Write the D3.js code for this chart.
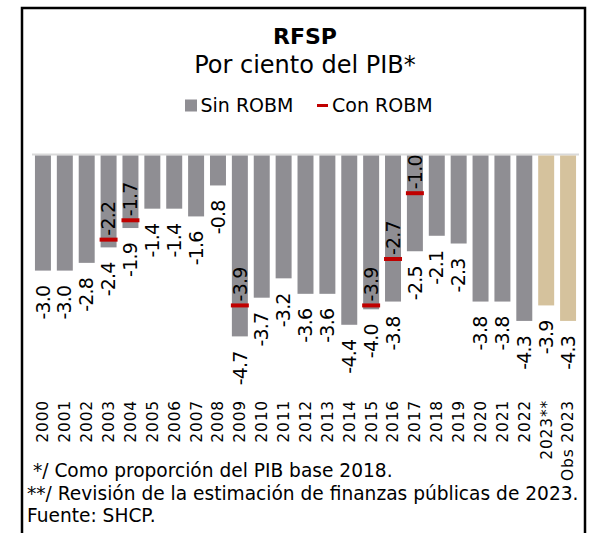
<!DOCTYPE html>
<html>
<head>
<meta charset="utf-8">
<script src="https://cdn.jsdelivr.net/npm/d3@7"></script>
<style>
  html, body { margin: 0; padding: 0; background: #fff; }
  svg { display: block; font-family: "DejaVu Sans", sans-serif; }
</style>
</head>
<body>
<svg id="chart" width="594" height="533"></svg>
<script>
// Years on the category axis
const years = ["2000","2001","2002","2003","2004","2005","2006","2007","2008","2009","2010",
  "2011","2012","2013","2014","2015","2016","2017","2018","2019","2020","2021","2022",
  "2023**","Obs 2023"];

// RFSP without ROBM, % of GDP
const sinROBM = [-3.0,-3.0,-2.8,-2.4,-1.9,-1.4,-1.4,-1.6,-0.8,-4.7,-3.7,
  -3.2,-3.6,-3.6,-4.4,-4.0,-3.8,-2.5,-2.1,-2.3,-3.8,-3.8,-4.3,
  -3.9,-4.3];

// RFSP with ROBM, only for the years where it differs
const conYears = ["2003","2004","2009","2015","2016","2017"];
const conROBM  = [-2.2,-1.7,-3.9,-3.9,-2.7,-1.0];

// Estimates for 2023 drawn in a different colour
const estimateYears = ["2023**","Obs 2023"];

const notes = [
  " */ Como proporción del PIB base 2018.",
  "**/ Revisión de la estimación de finanzas públicas de 2023.",
  "Fuente: SHCP."
];

const GRAY = "#8f8e93", TAN = "#d5c29d", RED = "#c00000";

const svg = d3.select("#chart");

// frame
svg.append("rect")
  .attr("x", 22).attr("y", 8).attr("width", 563).attr("height", 540)
  .attr("fill", "none").attr("stroke", "#000").attr("stroke-width", 2.5);

// titles
svg.append("text").attr("x", 305).attr("y", 43.5).attr("text-anchor", "middle")
  .style("font-weight", "bold").style("font-size", "22px").text("RFSP");
svg.append("text").attr("x", 305).attr("y", 72.5).attr("text-anchor", "middle")
  .style("font-size", "24px").text("Por ciento del PIB*");

// legend
const leg = svg.append("g").style("font-size", "19px");
leg.append("rect").attr("x", 185).attr("y", 99.5).attr("width", 12).attr("height", 12).attr("fill", GRAY);
leg.append("text").attr("x", 200.5).attr("y", 111.5).text("Sin ROBM");
leg.append("rect").attr("x", 317).attr("y", 104).attr("width", 11).attr("height", 3).attr("fill", RED);
leg.append("text").attr("x", 332).attr("y", 111.5).text("Con ROBM");

// scales
const x = d3.scaleBand().domain(years).range([32, 579]).paddingInner(0.27).paddingOuter(0.135);
const y = d3.scaleLinear().domain([0, -5]).range([154.5, 154.5 + 5 * 38.7]);

const bars = years.map((yr, i) => ({ yr, v: sinROBM[i] }));
const marks = conYears.map((yr, i) => ({ yr, v: conROBM[i] }));

// zero line
svg.append("line")
  .attr("x1", x.range()[0]).attr("x2", x.range()[1])
  .attr("y1", y(0)).attr("y2", y(0))
  .attr("stroke", "#d9d9d9").attr("stroke-width", 2);

// bars
svg.append("g").selectAll("rect").data(bars).join("rect")
  .attr("x", d => x(d.yr))
  .attr("y", y(0) + 1)
  .attr("width", x.bandwidth())
  .attr("height", d => y(d.v) - y(0) - 1)
  .attr("fill", d => estimateYears.includes(d.yr) ? TAN : GRAY);

// ROBM markers
svg.append("g").selectAll("rect").data(marks).join("rect")
  .attr("x", d => x(d.yr) - 1)
  .attr("y", d => y(d.v) - 2)
  .attr("width", x.bandwidth() + 2)
  .attr("height", 4)
  .attr("fill", RED);

// one decimal, plain hyphen as the minus sign
const fmt = v => v.toFixed(1);

// labels under the bars
svg.append("g").selectAll("text").data(bars).join("text")
  .attr("transform", d => `translate(${x(d.yr) + x.bandwidth() / 2},${y(d.v) + 15}) rotate(-90)`)
  .attr("dy", "0.35em")
  .attr("text-anchor", "end")
  .style("font-size", "19px")
  .style("letter-spacing", "-0.8px")
  .text(d => fmt(d.v));

// labels above the markers
svg.append("g").selectAll("text").data(marks).join("text")
  .attr("transform", d => `translate(${x(d.yr) + x.bandwidth() / 2},${y(d.v) - 4}) rotate(-90)`)
  .attr("dy", "0.35em")
  .attr("text-anchor", "start")
  .style("font-size", "19px")
  .style("letter-spacing", "-0.8px")
  .text(d => fmt(d.v));

// category axis
const axis = svg.append("g")
  .attr("transform", "translate(0,400)")
  .call(d3.axisBottom(x).tickSize(0).tickPadding(0));
axis.select(".domain").remove();
axis.selectAll("text")
  .attr("x", 0).attr("y", 0).attr("dy", "0.35em")
  .attr("transform", "rotate(-90)")
  .style("text-anchor", "end")
  .style("font-family", "DejaVu Sans, sans-serif")
  .style("font-size", "15.5px")
  .style("letter-spacing", "0.8px")
  .attr("fill", "#000");

// notes
svg.append("g").style("font-size", "18.6px").selectAll("text").data(notes).join("text")
  .attr("x", 27)
  .attr("y", (d, i) => 477 + i * 22.5)
  .attr("xml:space", "preserve")
  .style("white-space", "pre")
  .text(d => d);
</script>
</body>
</html>
